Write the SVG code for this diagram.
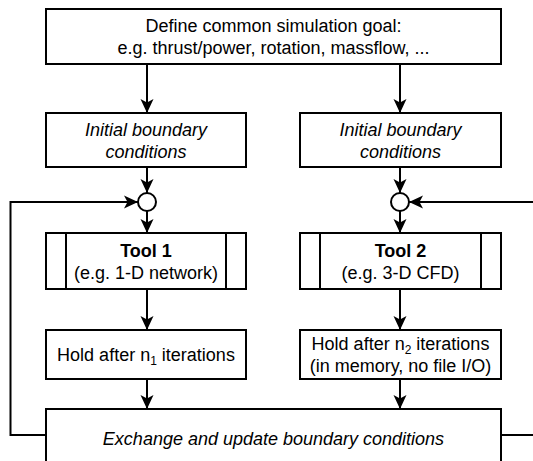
<svg xmlns="http://www.w3.org/2000/svg" width="533" height="461" viewBox="0 0 533 461">
  <style>
    .box { fill: #ffffff; stroke: #000000; stroke-width: 2; }
    .edge { fill: none; stroke: #000000; stroke-width: 2; }
    .t { font-family: "Liberation Sans", Arial, Helvetica, sans-serif; font-size: 18px; fill: #000000; text-anchor: middle; }
    .it { font-style: italic; }
    .b { font-weight: bold; }
    .sub { font-size: 12px; }
  </style>
  <defs>
    <marker id="arrow" viewBox="0 0 14 14" refX="14" refY="7" markerWidth="14" markerHeight="14" markerUnits="userSpaceOnUse" orient="auto">
      <path d="M0,0.5 L14,7 L0,13.5 L3.5,7 z" fill="#000000"/>
    </marker>
  </defs>

  <rect width="533" height="461" fill="#ffffff"/>

  <!-- connectors -->
  <g id="connectors">
    <line class="edge" x1="147" y1="64" x2="147" y2="113" marker-end="url(#arrow)"/>
    <line class="edge" x1="400" y1="64" x2="400" y2="113" marker-end="url(#arrow)"/>
    <line class="edge" x1="147" y1="167" x2="147" y2="193" marker-end="url(#arrow)"/>
    <line class="edge" x1="400" y1="167" x2="400" y2="193" marker-end="url(#arrow)"/>
    <line class="edge" x1="147" y1="211" x2="147" y2="233" marker-end="url(#arrow)"/>
    <line class="edge" x1="400" y1="211" x2="400" y2="233" marker-end="url(#arrow)"/>
    <line class="edge" x1="147" y1="289" x2="147" y2="330" marker-end="url(#arrow)"/>
    <line class="edge" x1="400" y1="289" x2="400" y2="330" marker-end="url(#arrow)"/>
    <line class="edge" x1="147" y1="379" x2="147" y2="409" marker-end="url(#arrow)"/>
    <line class="edge" x1="400" y1="379" x2="400" y2="409" marker-end="url(#arrow)"/>
    <!-- feedback loops from the exchange step back to the merge points -->
    <polyline class="edge" points="46,435 10.5,435 10.5,202 138,202" marker-end="url(#arrow)"/>
    <polyline class="edge" points="501,435 540,435"/>
    <polyline class="edge" points="540,202 409,202" marker-end="url(#arrow)"/>
  </g>

  <g id="goal">
    <rect class="box" x="46" y="9" width="455" height="55"/>
    <text class="t" x="273.5" y="32">Define common simulation goal:</text>
    <text class="t" x="273.5" y="54">e.g. thrust/power, rotation, massflow, ...</text>
  </g>

  <g id="init1">
    <rect class="box" x="46" y="113" width="200" height="54"/>
    <text class="t it" x="146" y="135.5">Initial boundary</text>
    <text class="t it" x="146" y="157.5">conditions</text>
  </g>
  <g id="init2">
    <rect class="box" x="300" y="113" width="201" height="54"/>
    <text class="t it" x="400.5" y="135.5">Initial boundary</text>
    <text class="t it" x="400.5" y="157.5">conditions</text>
  </g>

  <g id="merge1">
    <circle class="box" cx="147" cy="202" r="9"/>
  </g>
  <g id="merge2">
    <circle class="box" cx="400" cy="202" r="9"/>
  </g>

  <g id="tool1">
    <rect class="box" x="46" y="233" width="200" height="56"/>
    <line class="edge" x1="66" y1="233" x2="66" y2="289"/>
    <line class="edge" x1="226" y1="233" x2="226" y2="289"/>
    <text class="t b" x="146" y="256.5">Tool 1</text>
    <text class="t" x="146" y="278.5">(e.g. 1-D network)</text>
  </g>
  <g id="tool2">
    <rect class="box" x="300" y="233" width="201" height="56"/>
    <line class="edge" x1="320" y1="233" x2="320" y2="289"/>
    <line class="edge" x1="481" y1="233" x2="481" y2="289"/>
    <text class="t b" x="400.5" y="256.5">Tool 2</text>
    <text class="t" x="400.5" y="278.5">(e.g. 3-D CFD)</text>
  </g>

  <g id="hold1">
    <rect class="box" x="46" y="330" width="200" height="49"/>
    <text class="t" x="146" y="361">Hold after n<tspan class="sub" dy="4">1</tspan><tspan dy="-4"> iterations</tspan></text>
  </g>
  <g id="hold2">
    <rect class="box" x="300" y="330" width="201" height="49"/>
    <text class="t" x="400.5" y="350">Hold after n<tspan class="sub" dy="4">2</tspan><tspan dy="-4"> iterations</tspan></text>
    <text class="t" x="400.5" y="372">(in memory, no file I/O)</text>
  </g>

  <g id="exchange">
    <rect class="box" x="46" y="409" width="455" height="70"/>
    <text class="t it" x="273.5" y="445">Exchange and update boundary conditions</text>
  </g>
</svg>
